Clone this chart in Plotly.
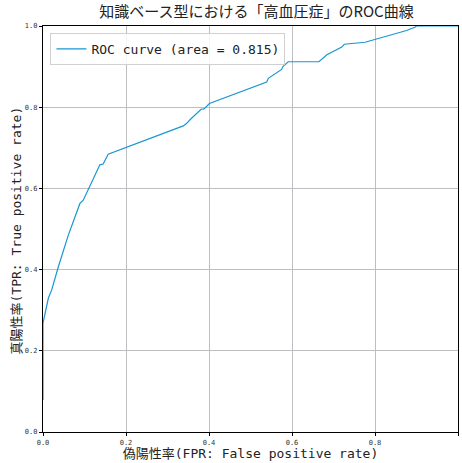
import plotly.graph_objects as go

fpr = [0.0, 0.0, 0.0, 0.013, 0.021, 0.037, 0.061, 0.089, 0.097, 0.137, 0.145, 0.157,
       0.338, 0.345, 0.356, 0.381, 0.388, 0.401, 0.475, 0.539, 0.543, 0.575, 0.578,
       0.591, 0.665, 0.684, 0.720, 0.726, 0.776, 0.812, 0.852, 0.876, 0.896, 0.90, 1.0]
tpr = [0.0, 0.079, 0.268, 0.33, 0.35, 0.407, 0.485, 0.563, 0.571, 0.658, 0.66, 0.684,
       0.754, 0.759, 0.771, 0.795, 0.796, 0.809, 0.838, 0.862, 0.871, 0.893, 0.90,
       0.912, 0.912, 0.929, 0.948, 0.955, 0.960, 0.970, 0.982, 0.989, 0.997, 1.0, 1.0]
auc = 0.815
title = "知識ベース型における「高血圧症」のROC曲線"
xlabel = "偽陽性率(FPR: False positive rate)"
ylabel = "真陽性率(TPR: True positive rate)"
ticks = [0.0, 0.2, 0.4, 0.6, 0.8, 1.0]

FONT = "DejaVu Sans Mono, Noto Sans CJK JP, sans-serif"

fig = go.Figure()
fig.add_trace(go.Scatter(x=fpr[1:], y=tpr[1:], mode="lines",
                         line=dict(color="#1996d2", width=1.2),
                         name=f"ROC curve (area = {auc:.3f})"))

axis_common = dict(range=[0, 1], tickvals=ticks, ticktext=[f"{t:.1f}" for t in ticks],
                   showgrid=True, gridcolor="#bcbec2", gridwidth=1,
                   showline=True, linecolor="black", linewidth=1.2, mirror=True,
                   ticks="outside", ticklen=3, tickcolor="black",
                   tickfont=dict(size=7, family=FONT, color="#333"),
                   zeroline=False, fixedrange=True, automargin=False)

fig.update_layout(
    width=462, height=463,
    margin=dict(l=43, r=4, t=26, b=31),
    paper_bgcolor="white", plot_bgcolor="white",
    title=dict(text=title, x=0.555, xanchor="center", y=0.985, yanchor="top",
               font=dict(size=15, family="Noto Sans CJK JP", color="#222")),
    xaxis=dict(**axis_common, title=dict(text=xlabel, standoff=2,
               font=dict(size=13, family=FONT, color="#222"))),
    yaxis=dict(**axis_common),
    legend=dict(x=0.018, y=0.983, xanchor="left", yanchor="top",
                bgcolor="rgba(255,255,255,0.85)", bordercolor="#d0d0d0", borderwidth=1,
                font=dict(size=13, family=FONT, color="#222")),
    showlegend=True,
)
fig.add_annotation(text=ylabel, xref="paper", yref="paper", x=-0.064, y=0.4975,
                   xanchor="center", yanchor="middle", textangle=-90, showarrow=False,
                   font=dict(size=13, family=FONT, color="#222"))

fig.write_html("out.html", config={"displayModeBar": False},
               post_script="document.body.style.margin='0';document.body.style.overflow='hidden';")
